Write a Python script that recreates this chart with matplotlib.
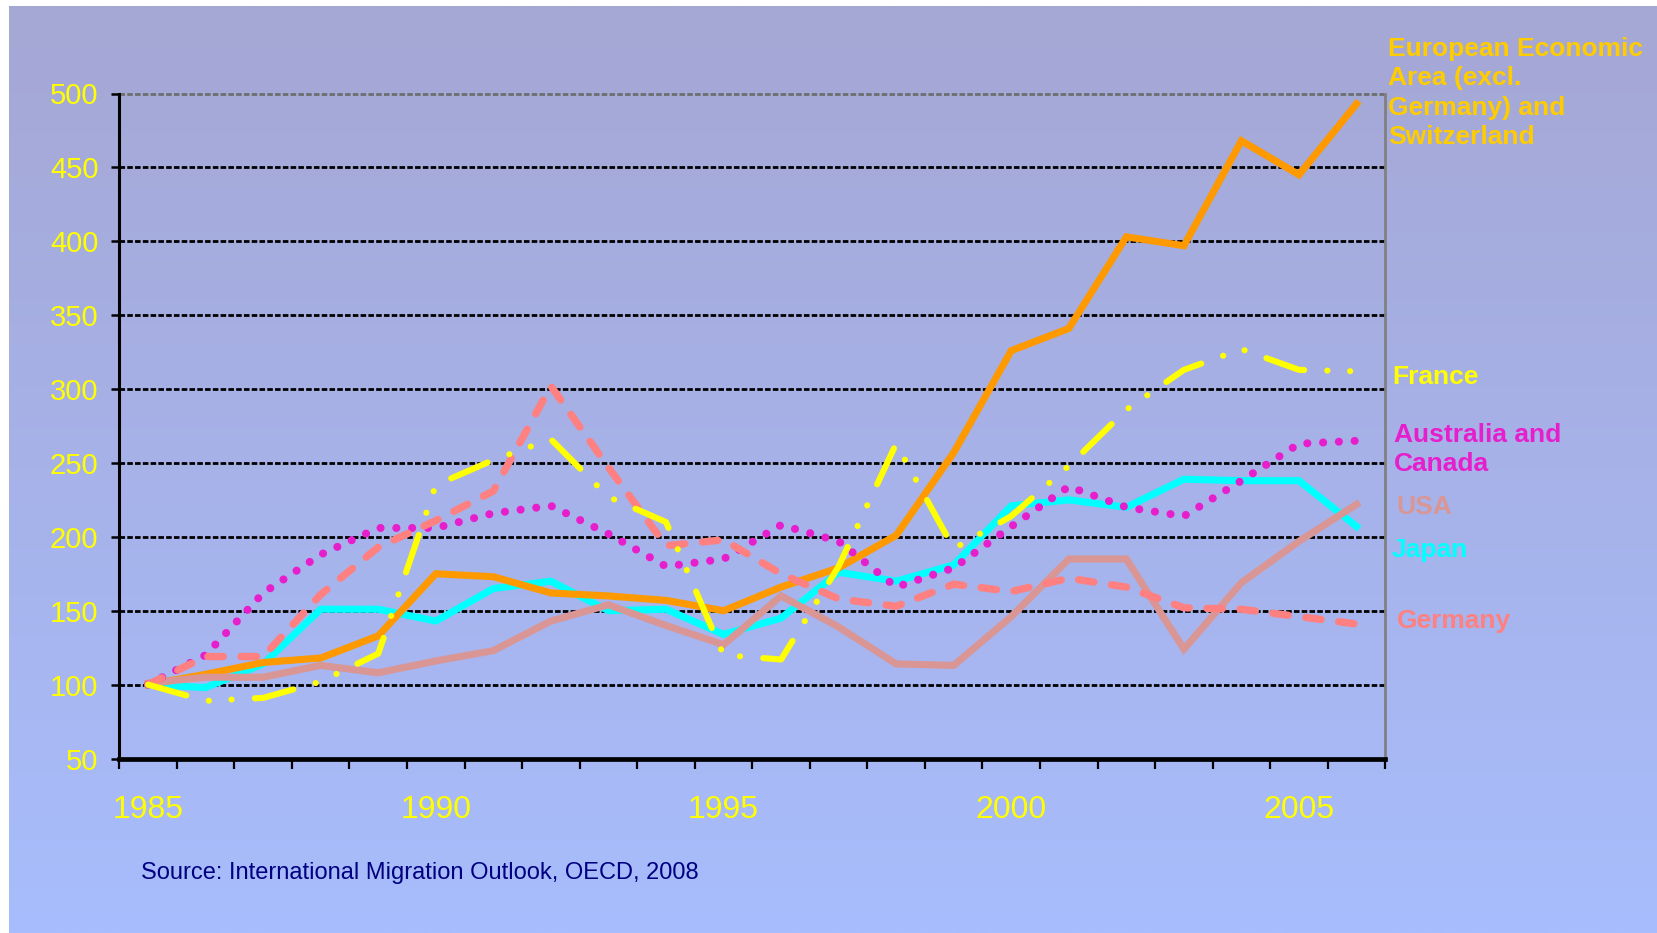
import numpy as np
import matplotlib
matplotlib.use("Agg")
import matplotlib.pyplot as plt
from matplotlib import font_manager

# ---------------- data ----------------
years = list(range(1985, 2007))
eea = [100, 107, 115, 118, 133, 175, 173, 162, 160, 157, 150, 166, 179, 201, 257, 326, 341, 403, 397, 468, 445, 493]
japan = [100, 98, 114, 151, 151, 143, 165, 170, 150, 151, 134, 145, 176, 170, 181, 221, 225, 220, 239, 238, 238, 207]
usa = [101, 105, 105, 113, 108, 116, 123, 143, 154, 140, 127, 160, 139, 114, 113, 146, 185, 185, 124, 169, 197, 222]
germany = [100, 119, 119, 161, 193, 211, 231, 302, 247, 194, 198, 175, 158, 153, 168, 163, 172, 166, 152, 151, 146, 141]
australia = [100, 120, 162, 188, 206, 206, 216, 221, 202, 180, 185, 208, 197, 166, 179, 207, 234, 220, 214, 238, 263, 265]
france = [100, 89, 91, 102, 121, 235, 252, 266, 227, 210, 120, 117, 180, 263, 192, 214, 248, 286, 313, 327, 313, 312]

yticks = [50, 100, 150, 200, 250, 300, 350, 400, 450, 500]
xlabel_years = [1985, 1990, 1995, 2000, 2005]

eea_label = ["European Economic", "Area (excl.", "Germany) and", "Switzerland"]
source_text = "Source: International Migration Outlook, OECD, 2008"

# ---------------- fonts ----------------
names = {f.name for f in font_manager.fontManager.ttflist}
base_font = "Liberation Sans" if "Liberation Sans" in names else "DejaVu Sans"
narrow_font = "Liberation Sans Narrow" if "Liberation Sans Narrow" in names else base_font
xlab_size = 27 if narrow_font == "Liberation Sans Narrow" else 23
plt.rcParams["font.family"] = [base_font, "DejaVu Sans"]

W, H = 1658, 933
DPI = 100
fig = plt.figure(figsize=(W / DPI, H / DPI), dpi=DPI)

# ---------------- background ----------------
bg = fig.add_axes([0, 0, 1, 1], zorder=-10)
bg.set_xlim(0, W)
bg.set_ylim(H, 0)
bg.axis("off")
bg.add_patch(plt.Rectangle((0, 0), W, H, color="white"))
top = np.array([165, 167, 212]) / 255.0
bot = np.array([168, 189, 253]) / 255.0
t = np.linspace(0, 1, 256)[:, None]
grad = (top[None, :] * (1 - t) + bot[None, :] * t)[:, None, :]
bg.imshow(grad, extent=(9, W, H, 6), aspect="auto", interpolation="bilinear", zorder=1)

# ---------------- main axes ----------------
L, R, T, B = 119.3, 1385.3, 93.5, 758.5
ax = fig.add_axes([L / W, 1 - B / H, (R - L) / W, (B - T) / H])
ax.patch.set_alpha(0)

x = np.arange(len(years))
ax.set_xlim(-0.5, len(years) - 0.5)
ax.set_ylim(50, 500)

# gridlines
for v in yticks[1:-1]:
    ax.axhline(v, color="black", lw=2.0, linestyle=(0, (2.0, 0.8)), zorder=1)
ax.axhline(500, color="#6E6E6E", lw=2.0, linestyle=(0, (2.0, 0.8)), zorder=1, clip_on=False)

lw_solid = 5.1
ax.plot(x, japan, color="#00FFFF", lw=lw_solid, solid_joinstyle="miter", zorder=3)
ax.plot(x, eea, color="#FF9900", lw=lw_solid, solid_joinstyle="miter", zorder=3)
ax.plot(x, usa, color="#D99694", lw=lw_solid, solid_joinstyle="miter", zorder=4)
ax.plot(x, australia, color="#E61ECC", lw=5.8, linestyle=(0, (0.01, 1.95)),
        dash_capstyle="round", zorder=5)
ax.plot(x, germany, color="#FF8080", lw=5.3, linestyle=(0, (2.1, 2.4)),
        dash_capstyle="round", dash_joinstyle="round", zorder=5)
ax.plot(x, france, color="#FFFF00", lw=4.4,
        linestyle=(0, (6.5, 3.8, 0.02, 3.7, 0.02, 3.8)),
        dash_capstyle="round", dash_joinstyle="round", zorder=6)

# spines
ax.spines["left"].set_color("black")
ax.spines["left"].set_linewidth(2.2)
ax.spines["bottom"].set_color("black")
ax.spines["bottom"].set_linewidth(3.4)
ax.spines["right"].set_color("#808080")
ax.spines["right"].set_linewidth(2.0)
ax.spines["top"].set_visible(False)

# y ticks
ax.set_yticks(yticks)
ax.set_yticklabels([str(v) for v in yticks])
ax.tick_params(axis="y", which="major", direction="out", length=6, width=1.8,
               color="black", labelcolor="#FFFF00", labelsize=21, pad=9)

# x ticks: boundaries (major, no labels), labels at centers (minor)
ax.set_xticks(np.arange(-0.5, len(years), 1.0))
ax.set_xticklabels([""] * len(np.arange(-0.5, len(years), 1.0)))
ax.tick_params(axis="x", which="major", direction="out", length=7.5, width=1.6, color="black")
lab_pos = [years.index(yv) for yv in xlabel_years]
ax.set_xticks(lab_pos, minor=True)
ax.set_xticklabels([str(v) for v in xlabel_years], minor=True)
ax.tick_params(axis="x", which="minor", length=0, labelcolor="#FFFF00", pad=26)
for lab in ax.get_xticklabels(minor=True):
    lab.set_fontfamily([narrow_font, "DejaVu Sans"])
    lab.set_fontsize(xlab_size)

# ---------------- right-hand labels ----------------
def ftext(px, py, s, color, size=19, weight="bold"):
    fig.text(px / W, 1 - py / H, s, color=color, fontsize=size, fontweight=weight,
             ha="left", va="baseline")

for i, line in enumerate(eea_label):
    ftext(1388, 56 + i * 29.3, line, "#FFCC00")
ftext(1392, 384.5, "France", "#FFFF00")
ftext(1394, 442, "Australia and", "#E61ECC")
ftext(1394, 470.5, "Canada", "#E61ECC")
ftext(1396, 514, "USA", "#D99694")
ftext(1392, 557.5, "Japan", "#00FFFF")
ftext(1397, 628, "Germany", "#FF8080")

ftext(141, 879.5, source_text, "#000080", size=17, weight="normal")

fig.savefig("out.png", dpi=DPI)
